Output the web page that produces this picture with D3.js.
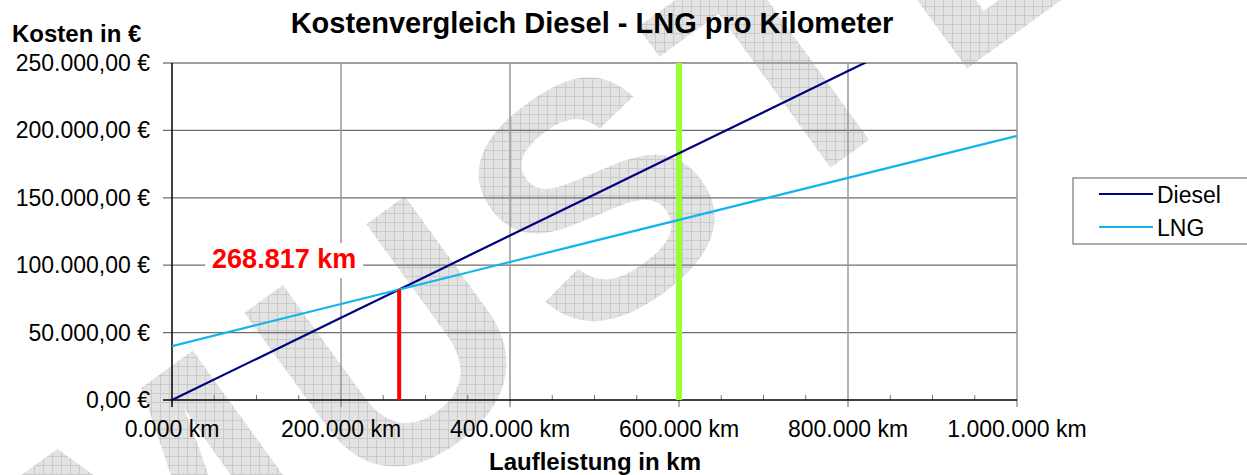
<!DOCTYPE html>
<html>
<head>
<meta charset="utf-8">
<script src="https://cdn.jsdelivr.net/npm/d3@7"></script>
<style>
	body { margin: 0; background: #fff; }
	svg { display: block; font-family: "Liberation Sans", Arial, sans-serif; }
</style>
</head>
<body>
<svg id="svg" width="1247" height="475"></svg>
<script>
"use strict";

// chart values
const kmValues = [0, 100000, 200000, 300000, 400000, 500000, 600000, 700000, 800000, 900000, 1000000];
const dieselCost = [0, 30500, 61000, 91500, 122000, 152500, 183000, 213500, 244000, 274500, 305000];
const lngCost = [40000, 55600, 71200, 86800, 102400, 118000, 133600, 149200, 164800, 180400, 196000];
const seriesNames = ["Diesel", "LNG"];
const breakEvenKm = 268817;
const compareKm = 600000;
const yTickValues = [0, 50000, 100000, 150000, 200000, 250000];
const xTickValues = [0, 200000, 400000, 600000, 800000, 1000000];
const xTickLabels = ["0.000 km", "200.000 km", "400.000 km", "600.000 km", "800.000 km", "1.000.000 km"];

const de = d3.formatLocale({ decimal: ",", thousands: ".", grouping: [3], currency: ["", " €"] });
const fmtEuro = de.format("$,.2f");
const fmtKm = de.format(",");

const svg = d3.select("#svg");

const x = d3.scaleLinear().domain([0, 1000000]).range([172, 1017]);
const y = d3.scaleLinear().domain([0, 250000]).range([400, 63]);

// watermark "MUSTER" (hatched grey), S centred at ~(592,195)
const defs = svg.append("defs");
const pat = defs.append("pattern")
	.attr("id", "hatch")
	.attr("patternUnits", "userSpaceOnUse")
	.attr("width", 9).attr("height", 9)
	.attr("patternTransform", "rotate(36)");
pat.append("rect").attr("width", 9).attr("height", 9).attr("fill", "#e3e3e3");
pat.append("path").attr("d", "M0,0.5H9M0.5,0V9").attr("stroke", "#cacaca").attr("stroke-width", 1);

const wmSize = 330;
const wm = svg.append("g")
	.attr("transform", "translate(592,195) rotate(-36)")
	.append("text")
	.attr("font-size", wmSize)
	.attr("font-weight", "bold")
	.attr("letter-spacing", 22)
	.attr("fill", "url(#hatch)")
	.text("MUSTER");
// shift so the centre of the "S" sits at the origin
const wmNode = wm.node();
const sMid = (wmNode.getStartPositionOfChar(2).x + wmNode.getEndPositionOfChar(2).x - 22) / 2;
wm.attr("x", -sMid).attr("y", wmSize * 0.358);

defs.append("clipPath").attr("id", "plotClip")
	.append("rect")
	.attr("x", x(0)).attr("y", y(250000))
	.attr("width", x(1000000) - x(0)).attr("height", y(0) - y(250000));

const g = svg.append("g");

// horizontal gridlines
g.selectAll(".hgrid")
	.data(yTickValues.slice(1))
	.enter()
	.append("line")
	.attr("x1", x(0) - 9).attr("x2", x(1000000))
	.attr("y1", (d) => y(d)).attr("y2", (d) => y(d))
	.style("stroke", (d) => (d === 250000 ? "#a0a0a0" : "#6e6e6e"))
	.style("stroke-width", (d) => (d === 250000 ? 2 : 1.2));

// vertical gridlines
g.selectAll(".vgrid")
	.data(xTickValues.slice(1))
	.enter()
	.append("line")
	.attr("x1", (d) => x(d)).attr("x2", (d) => x(d))
	.attr("y1", y(250000)).attr("y2", y(0) + 7)
	.style("stroke", "#999")
	.style("stroke-width", 1.5);

// minor ticks
g.selectAll(".minor")
	.data(d3.range(50000, 1000000, 50000).filter((d) => d % 200000 !== 0))
	.enter()
	.append("line")
	.attr("x1", (d) => x(d)).attr("x2", (d) => x(d))
	.attr("y1", y(0) - 5).attr("y2", y(0))
	.style("stroke", "#777")
	.style("stroke-width", 1);

// axis lines
g.append("line")
	.attr("x1", x(0)).attr("x2", x(0))
	.attr("y1", y(250000)).attr("y2", y(0) + 7)
	.style("stroke", "#000").style("stroke-width", 1.5);
g.append("line")
	.attr("x1", x(0) - 9).attr("x2", x(1000000))
	.attr("y1", y(0)).attr("y2", y(0))
	.style("stroke", "#000").style("stroke-width", 1.5);

// y tick labels
g.selectAll(".ylab")
	.data(yTickValues)
	.enter()
	.append("text")
	.attr("x", 150)
	.attr("y", (d) => y(d) + 8)
	.attr("text-anchor", "end")
	.attr("font-size", "23px")
	.text((d) => fmtEuro(d));

// x tick labels
g.selectAll(".xlab")
	.data(xTickValues)
	.enter()
	.append("text")
	.attr("x", (d) => x(d))
	.attr("y", 437)
	.attr("text-anchor", "middle")
	.attr("font-size", "23px")
	.text((d, i) => xTickLabels[i]);

// comparison line at 600.000 km
g.append("line")
	.attr("x1", x(compareKm)).attr("x2", x(compareKm))
	.attr("y1", y(250000)).attr("y2", y(0))
	.style("stroke", "#99ff33").style("stroke-width", 6);

// series lines
const seriesColors = ["#000080", "#12b4ec"];
const seriesData = [dieselCost, lngCost];
const line = d3.line()
	.x((d, i) => x(kmValues[i]))
	.y((d) => y(d));

g.append("g")
	.attr("clip-path", "url(#plotClip)")
	.selectAll("path")
	.data(seriesData)
	.enter()
	.append("path")
	.attr("d", line)
	.style("fill", "none")
	.style("stroke", (d, i) => seriesColors[i])
	.style("stroke-width", 2.2);

// break-even line
const dieselAt = d3.scaleLinear().domain(kmValues).range(dieselCost);
g.append("line")
	.attr("x1", x(breakEvenKm)).attr("x2", x(breakEvenKm))
	.attr("y1", y(dieselAt(breakEvenKm))).attr("y2", y(0))
	.style("stroke", "#ff0000").style("stroke-width", 4);

// break-even label
const labelX = x(breakEvenKm) - 115;
g.append("rect")
	.attr("x", labelX - 79).attr("y", 243)
	.attr("width", 158).attr("height", 35)
	.style("fill", "#fff");
g.append("text")
	.attr("x", labelX)
	.attr("y", 268)
	.attr("text-anchor", "middle")
	.attr("font-size", "27px")
	.attr("font-weight", "bold")
	.attr("fill", "#ff0000")
	.text(fmtKm(breakEvenKm) + " km");

// titles
svg.append("text")
	.attr("x", 592).attr("y", 33)
	.attr("text-anchor", "middle")
	.attr("font-size", "29px")
	.attr("font-weight", "bold")
	.text("Kostenvergleich Diesel - LNG pro Kilometer");
svg.append("text")
	.attr("x", 12).attr("y", 42)
	.attr("font-size", "24px")
	.attr("font-weight", "bold")
	.text("Kosten in €");
svg.append("text")
	.attr("x", 595).attr("y", 470)
	.attr("text-anchor", "middle")
	.attr("font-size", "24px")
	.attr("font-weight", "bold")
	.text("Laufleistung in km");

// legend
const legend = svg.append("g").attr("transform", "translate(1073,178)");
legend.append("rect")
	.attr("width", 180).attr("height", 66)
	.style("fill", "#fff")
	.style("stroke", "#777").style("stroke-width", 1.2);
const item = legend.selectAll(".item")
	.data(seriesNames)
	.enter()
	.append("g")
	.attr("transform", (d, i) => `translate(0,${16 + i * 33})`);
item.append("line")
	.attr("x1", 26).attr("x2", 80)
	.style("stroke", (d, i) => seriesColors[i])
	.style("stroke-width", 2.2);
item.append("text")
	.attr("x", 84).attr("y", 9)
	.attr("font-size", "23px")
	.text((d) => d);
</script>
</body>
</html>
